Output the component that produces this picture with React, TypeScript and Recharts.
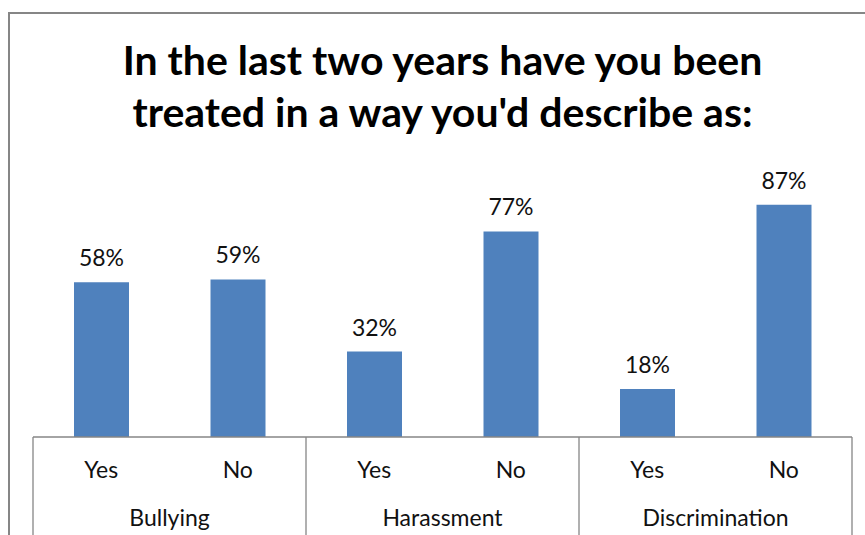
import { BarChart, Bar, XAxis, YAxis, LabelList } from 'recharts';

const groups = ['Bullying', 'Harassment', 'Discrimination'];
const answers = ['Yes', 'No'];
const yesValues = [58, 32, 18];
const noValues = [59, 77, 87];

const data = groups.flatMap((g, i) => [
  { group: g, answer: answers[0], value: yesValues[i] },
  { group: g, answer: answers[1], value: noValues[i] },
]);

const W = 865;
const H = 535;
const axisHeight = 98;
const margin = { top: 170, right: 13, bottom: 0, left: 33 };
const band = (W - margin.left - margin.right) / data.length;
const font = 'Lato, "Open Sans", sans-serif';
const lineColor = '#868686';

const GroupTick = (props: any) => {
  const { x, y, index } = props;
  const row = data[index];
  const isFirst = index % 2 === 0;
  return (
    <g>
      <text x={x} y={y + 41} textAnchor="middle" fontSize={23} fill="#111" fontFamily={font}>
        {row.answer}
      </text>
      {isFirst && (
        <>
          <line x1={x - band / 2} x2={x - band / 2} y1={y} y2={H} stroke={lineColor} strokeWidth={1.3} />
          <text x={x + band / 2} y={y + 89} textAnchor="middle" fontSize={23} fill="#111" fontFamily={font}>
            {row.group}
          </text>
        </>
      )}
      {index === data.length - 1 && (
        <line x1={x + band / 2} x2={x + band / 2} y1={y} y2={H} stroke={lineColor} strokeWidth={1.3} />
      )}
    </g>
  );
};

export default function App() {
  return (
    <div style={{ position: 'absolute', left: 0, top: 0, width: W, height: H, overflow: 'hidden', background: '#fff' }}>
      <div
        style={{
          position: 'absolute',
          left: 8,
          top: 12,
          width: W + 20,
          height: H + 20,
          border: `2px solid ${lineColor}`,
          boxSizing: 'border-box',
        }}
      />
      <div
        style={{
          position: 'absolute',
          left: 0,
          top: 34,
          width: 885,
          textAlign: 'center',
          fontFamily: font,
          fontWeight: 700,
          fontSize: 41,
          lineHeight: '52px',
          color: '#000',
        }}
      >
        In the last two years have you been
        <br />
        treated in a way you'd describe as:
      </div>
      <BarChart width={W} height={H} data={data} margin={margin} style={{ position: 'absolute', left: 0, top: 0 }}>
        <XAxis
          dataKey="answer"
          height={axisHeight}
          axisLine={{ stroke: lineColor, strokeWidth: 1.3 }}
          tickLine={false}
          tickSize={0}
          tickMargin={0}
          tick={<GroupTick />}
          interval={0}
        />
        <YAxis hide domain={[0, 100]} />
        <Bar dataKey="value" fill="#4F81BD" barSize={55} isAnimationActive={false}>
          <LabelList
            dataKey="value"
            position="top"
            offset={16}
            formatter={(v: any) => `${v}%`}
            fontSize={23}
            fill="#111"
            fontFamily={font}
          />
        </Bar>
      </BarChart>
    </div>
  );
}
